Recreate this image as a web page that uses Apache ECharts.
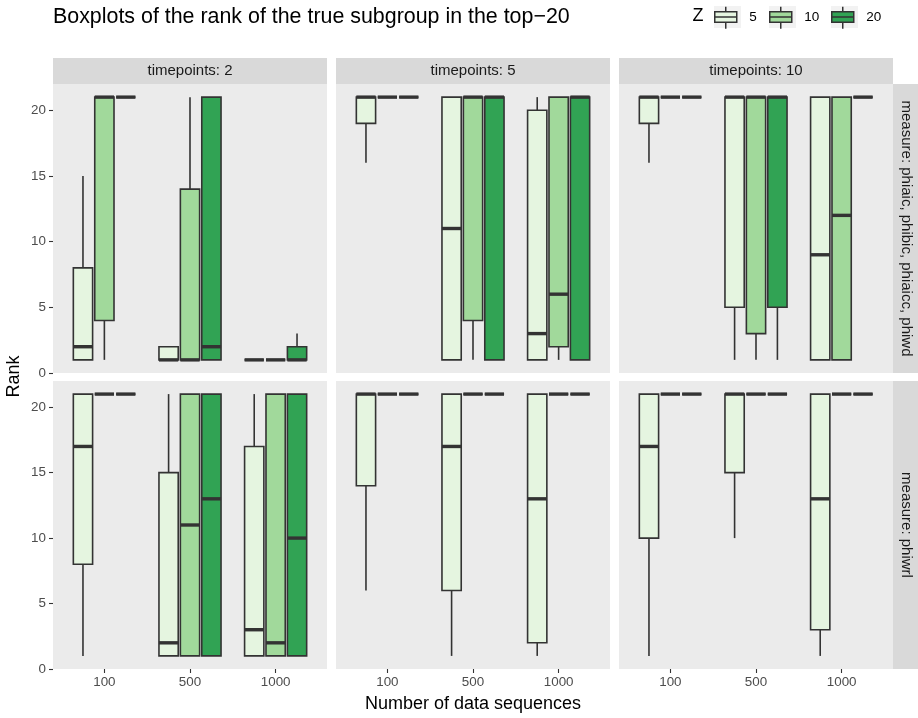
<!DOCTYPE html>
<html>
<head>
<meta charset="utf-8">
<script src="https://cdn.jsdelivr.net/npm/echarts@6/dist/echarts.min.js"></script>
<style>html,body{margin:0;padding:0;background:#fff}#c{width:918px;height:718px}</style>
</head>
<body>
<div id="c"></div>
<script>
// ---------- data ----------
const categories = ['100', '500', '1000'];
const zLevels = ['5', '10', '20'];
const timepoints = ['2', '5', '10'];
const measures = ['phiaic, phibic, phiaicc, phiwd', 'phiwrl'];
const yTicks = [0, 5, 10, 15, 20];
// each entry per category: [min, q1, median, q3, max]
const aic_t2_z5  = [[1,1,2,8,15],   [1,1,1,2,2],    [1,1,1,1,1]];
const aic_t2_z10 = [[1,4,21,21,21], [1,1,1,14,21],  [1,1,1,1,1]];
const aic_t2_z20 = [[21,21,21,21,21],[1,1,2,21,21], [1,1,1,2,3]];
const aic_t5_z5  = [[16,19,21,21,21],[1,1,11,21,21],[1,1,3,20,21]];
const aic_t5_z10 = [[21,21,21,21,21],[1,4,21,21,21],[1,2,6,21,21]];
const aic_t5_z20 = [[21,21,21,21,21],[1,1,21,21,21],[1,1,21,21,21]];
const aic_t10_z5  = [[16,19,21,21,21],[1,5,21,21,21],[1,1,9,21,21]];
const aic_t10_z10 = [[21,21,21,21,21],[1,3,21,21,21],[1,1,12,21,21]];
const aic_t10_z20 = [[21,21,21,21,21],[1,5,21,21,21],[21,21,21,21,21]];
const wrl_t2_z5  = [[1,8,17,21,21], [1,1,2,15,21],  [1,1,3,17,21]];
const wrl_t2_z10 = [[21,21,21,21,21],[1,1,11,21,21],[1,1,2,21,21]];
const wrl_t2_z20 = [[21,21,21,21,21],[1,1,13,21,21],[1,1,10,21,21]];
const wrl_t5_z5  = [[6,14,21,21,21],[1,6,17,21,21], [1,2,13,21,21]];
const wrl_t5_z10 = [[21,21,21,21,21],[21,21,21,21,21],[21,21,21,21,21]];
const wrl_t5_z20 = [[21,21,21,21,21],[21,21,21,21,21],[21,21,21,21,21]];
const wrl_t10_z5  = [[1,10,17,21,21],[10,15,21,21,21],[1,3,13,21,21]];
const wrl_t10_z10 = [[21,21,21,21,21],[21,21,21,21,21],[21,21,21,21,21]];
const wrl_t10_z20 = [[21,21,21,21,21],[21,21,21,21,21],[21,21,21,21,21]];

const panels = [
  [[aic_t2_z5, aic_t2_z10, aic_t2_z20], [aic_t5_z5, aic_t5_z10, aic_t5_z20], [aic_t10_z5, aic_t10_z10, aic_t10_z20]],
  [[wrl_t2_z5, wrl_t2_z10, wrl_t2_z20], [wrl_t5_z5, wrl_t5_z10, wrl_t5_z20], [wrl_t10_z5, wrl_t10_z10, wrl_t10_z20]]
];

// ---------- style / layout ----------
const fills = ['#E5F5E0', '#A1D99B', '#31A354'];
const dodge = [-0.25, 0, 0.25];
const boxW = 0.225;
const panelX = [53, 336, 619];
const panelW = 274;
const panelY = [84, 381];
const panelH = [289, 288];
const stripH = 26;
const FONT = '"Liberation Sans", Arial, Helvetica, sans-serif';
const edge = '#333333';

function renderer(k) {
  return function (params, api) {
    const xc = api.value(0) + dodge[k];
    const pMin = api.coord([xc, api.value(1)]);
    const pQ1 = api.coord([xc, api.value(2)]);
    const pMed = api.coord([xc, api.value(3)]);
    const pQ3 = api.coord([xc, api.value(4)]);
    const pMax = api.coord([xc, api.value(5)]);
    const w = api.size([boxW, 0])[0];
    const cx = pQ1[0];
    const ls = { stroke: edge, lineWidth: 1.6 };
    return {
      type: 'group',
      children: [
        { type: 'line', shape: { x1: cx, y1: pQ3[1], x2: cx, y2: pMax[1] }, style: ls },
        { type: 'line', shape: { x1: cx, y1: pQ1[1], x2: cx, y2: pMin[1] }, style: ls },
        { type: 'rect', shape: { x: cx - w / 2, y: pQ3[1], width: w, height: pQ1[1] - pQ3[1] },
          style: { fill: fills[k], stroke: edge, lineWidth: 1.6 } },
        { type: 'line', shape: { x1: cx - w / 2, y1: pMed[1], x2: cx + w / 2, y2: pMed[1] },
          style: { stroke: edge, lineWidth: 3.4 } }
      ]
    };
  };
}

const grids = [], xAxes = [], yAxes = [], series = [], graphics = [];
let gi = 0;
for (let r = 0; r < 2; r++) {
  for (let c = 0; c < 3; c++) {
    grids.push({ left: panelX[c], top: panelY[r], width: panelW, height: panelH[r],
      show: true, backgroundColor: '#EBEBEB', borderWidth: 0, containLabel: false });
    const bottom = r === 1, leftCol = c === 0;
    xAxes.push({
      type: 'value', gridIndex: gi, min: 0.4, max: 3.6,
      axisLine: { show: false }, splitLine: { show: false },
      axisTick: { show: bottom, customValues: [1, 2, 3], length: 4, lineStyle: { color: edge, width: 1.1 } },
      axisLabel: { show: bottom, customValues: [1, 2, 3], margin: 7, color: '#4D4D4D', fontSize: 13.4, fontFamily: FONT,
        formatter: v => categories[Math.round(v) - 1] },
      name: (bottom && c === 1) ? 'Number of data sequences' : '',
      nameLocation: 'middle', nameGap: 26,
      nameTextStyle: { fontSize: 18, color: '#000', fontFamily: FONT }
    });
    yAxes.push({
      type: 'value', gridIndex: gi, min: 0, max: 22,
      axisLine: { show: false }, splitLine: { show: false },
      axisTick: { show: leftCol, customValues: yTicks, length: 4, lineStyle: { color: edge, width: 1.1 } },
      axisLabel: { show: leftCol, customValues: yTicks, margin: 7, color: '#4D4D4D', fontSize: 13.4, fontFamily: FONT }
    });
    for (let k = 0; k < 3; k++) {
      series.push({
        type: 'custom', name: zLevels[k], xAxisIndex: gi, yAxisIndex: gi,
        itemStyle: { color: fills[k] },
        renderItem: renderer(k),
        encode: { x: 0, y: [1, 2, 3, 4, 5] },
        data: panels[r][c][k].map((v, i) => [i + 1].concat(v))
      });
    }
    gi++;
  }
}

// facet strips
for (let c = 0; c < 3; c++) {
  graphics.push({ type: 'rect', shape: { x: panelX[c], y: panelY[0] - stripH, width: panelW, height: stripH }, style: { fill: '#D9D9D9' } });
  graphics.push({ type: 'text', x: panelX[c] + panelW / 2, y: panelY[0] - stripH / 2,
    style: { text: 'timepoints: ' + timepoints[c], fill: '#1A1A1A', font: '15px ' + FONT, align: 'center', verticalAlign: 'middle' } });
}
const stripX = panelX[2] + panelW;
for (let r = 0; r < 2; r++) {
  graphics.push({ type: 'rect', shape: { x: stripX, y: panelY[r], width: stripH, height: panelH[r] }, style: { fill: '#D9D9D9' } });
  graphics.push({ type: 'text', x: stripX + stripH / 2, y: panelY[r] + panelH[r] / 2, rotation: -Math.PI / 2,
    style: { text: 'measure: ' + measures[r], fill: '#1A1A1A', font: '15px ' + FONT, align: 'center', verticalAlign: 'middle' } });
}
// y axis title
graphics.push({ type: 'text', x: 14, y: (panelY[0] + panelY[1] + panelH[1]) / 2, rotation: Math.PI / 2,
  style: { text: 'Rank', fill: '#000', font: '18px ' + FONT, align: 'center', verticalAlign: 'middle' } });

// legend
const keyLeft = [714, 769, 831];
const keyTop = 6, keyW = 27, keyH = 22;
graphics.push({ type: 'text', x: 698, y: 16,
  style: { text: 'Z', fill: '#000', font: '18px ' + FONT, align: 'center', verticalAlign: 'middle' } });
for (let k = 0; k < 3; k++) {
  graphics.push({ type: 'rect', z: -1, shape: { x: keyLeft[k], y: keyTop, width: keyW, height: keyH }, style: { fill: '#F2F2F2' } });
}
const legends = zLevels.map((z, k) => ({
  data: [z], left: keyLeft[k], top: keyTop, padding: 0, orient: 'horizontal',
  itemWidth: keyW, itemHeight: keyH, selectedMode: false,
  icon: 'path://M2.5,5 L24.5,5 L24.5,15.5 L2.5,15.5 Z M2.5,10.2 L24.5,10.2 M13.5,0 L13.5,5 M13.5,15.5 L13.5,22',
  itemStyle: { borderColor: edge, borderWidth: 1.5 },
  textStyle: { fontSize: 13.5, color: '#000', fontFamily: FONT, padding: [0, 0, 0, 5] }
}));

const chart = echarts.init(document.getElementById('c'), null, { renderer: 'canvas' });
chart.setOption({
  animation: false,
  backgroundColor: '#FFFFFF',
  title: { text: 'Boxplots of the rank of the true subgroup in the top\u221220', left: 53, top: 7, padding: 0,
    textStyle: { fontSize: 21.4, fontWeight: 'normal', color: '#000', fontFamily: FONT } },
  legend: legends,
  grid: grids, xAxis: xAxes, yAxis: yAxes, series: series,
  graphic: graphics
});
</script>
</body>
</html>
